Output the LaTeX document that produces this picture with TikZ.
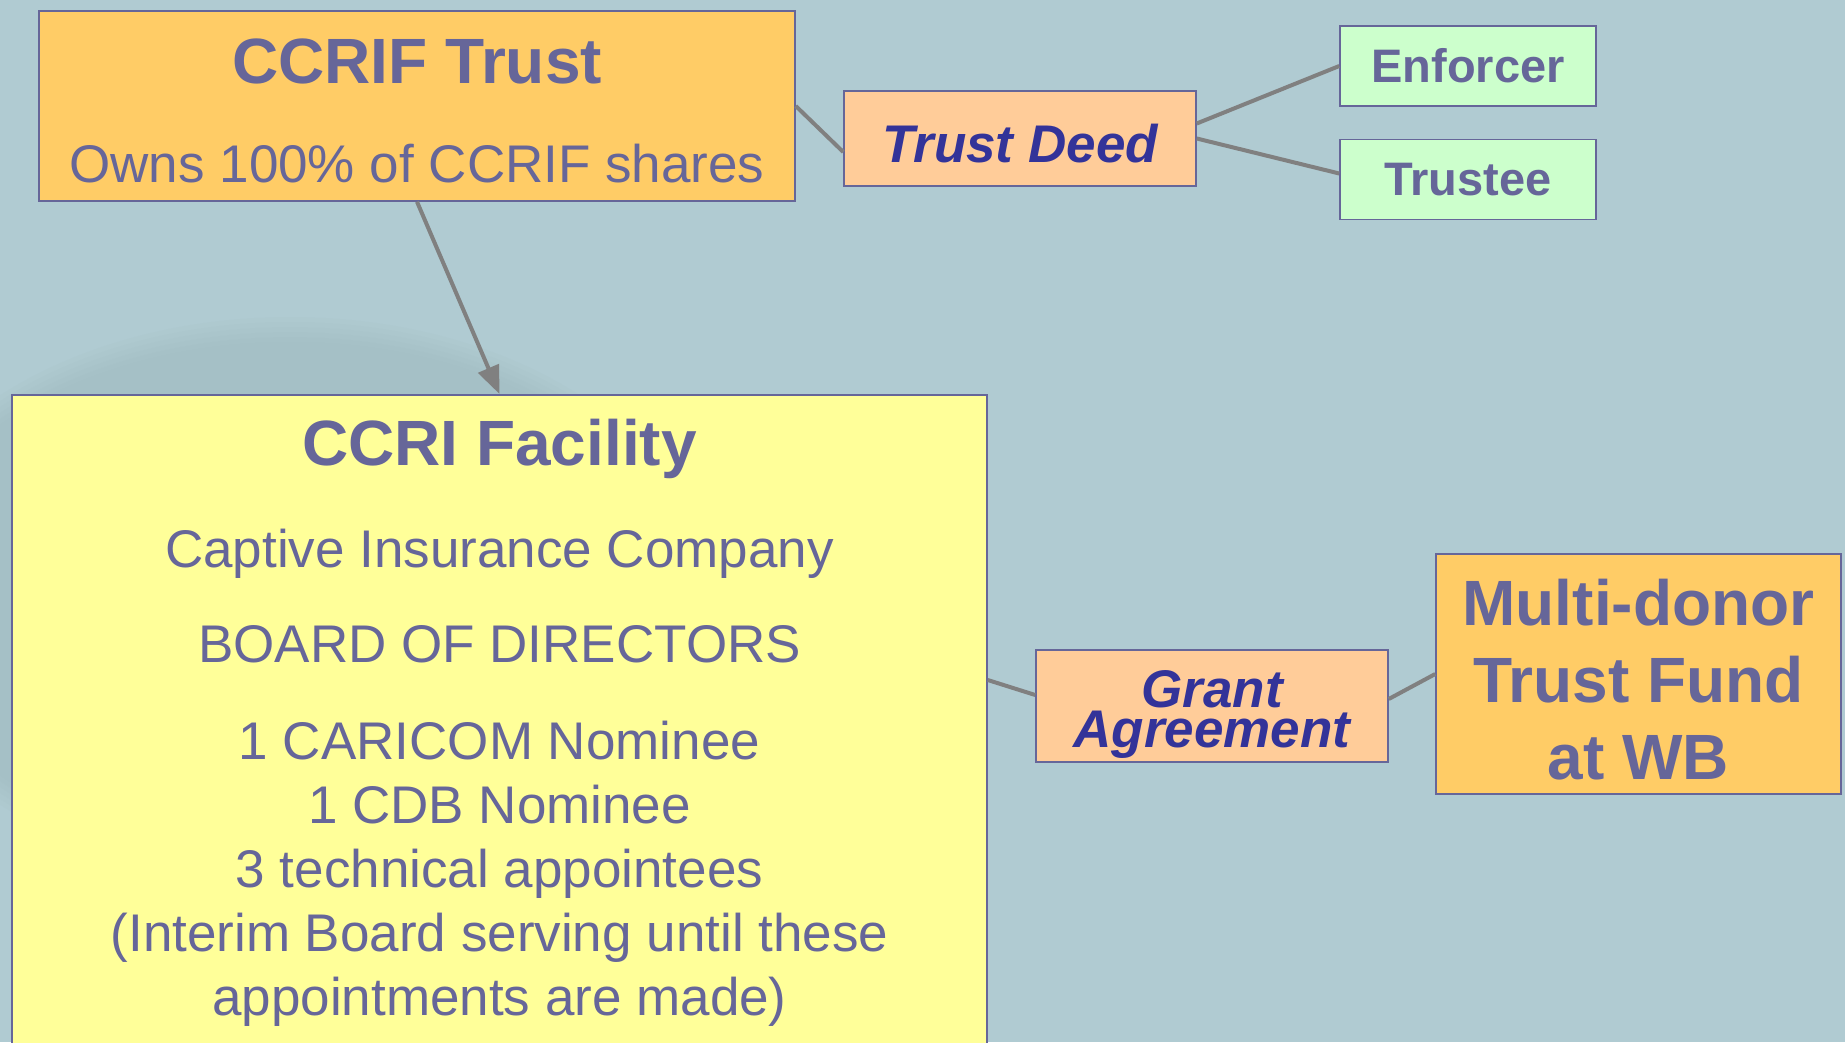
\documentclass[tikz,border=0pt]{standalone}
\usepackage{fontspec}
\setmainfont{Liberation Sans}
\usepackage{xcolor}
\usetikzlibrary{arrows.meta,positioning}

\definecolor{slide}{RGB}{176,203,210}
\definecolor{globe}{RGB}{158,184,190}
\definecolor{rim}{RGB}{102,102,153}
\definecolor{ink}{RGB}{102,102,153}
\definecolor{deepink}{RGB}{51,51,153}
\definecolor{gold}{RGB}{255,204,102}
\definecolor{peach}{RGB}{255,204,153}
\definecolor{mint}{RGB}{204,255,204}
\definecolor{lemon}{RGB}{255,255,153}
\definecolor{wire}{RGB}{128,128,128}

\begin{document}
\begin{tikzpicture}
    [x=1pt, y=-1pt, >={Triangle[length=28pt,width=22pt]},
    box/.style={draw=rim, line width=1.5pt, inner sep=0pt, align=center, text=ink},
    body/.style={font=\fontsize{53}{64}\selectfont},
    head/.style={font=\fontsize{64}{77}\selectfont\bfseries},
    small/.style={font=\fontsize{47}{56}\selectfont\bfseries},
    card/.style={box, fill=peach, text=deepink, minimum width=352pt,
      font=\fontsize{53}{64}\selectfont\bfseries\itshape},
    party/.style={box, fill=mint, small, minimum width=256pt, minimum height=80pt},
    link/.style={draw=wire, line width=4pt}]

  \useasboundingbox (0,0) rectangle (1845,1042);
  \fill[slide] (0,0) rectangle (1845,1042);
  % soft globe behind the facility box
  \foreach \r in {0,...,5}
    \fill[globe, opacity=0.1] (290,600) ellipse ({420-5*\r} and {283-5*\r});

  \node[box, fill=gold, body, minimum width=756pt, minimum height=190pt] (trust) at (417,106)
    {\rule{0pt}{55pt}{\fontsize{64}{77}\selectfont\bfseries CCRIF Trust}\\[35pt]
     Owns 100\% of CCRIF shares};
  \node[card, minimum height=95pt, text height=47pt, text depth=0pt] (deed) at (1020,138.5) {Trust Deed};
  \node[party] (enforcer) at (1468,66) {Enforcer};
  \node[party, below=32pt of enforcer] (trustee) {Trustee};

  \node[box, fill=lemon, body, anchor=north, minimum width=975pt, inner ysep=24pt] (facility) at (499.5,394)
    {{\fontsize{64}{77}\selectfont\bfseries CCRI Facility}\\[38pt]
     Captive Insurance Company\\[31pt]
     BOARD OF DIRECTORS\\[33pt]
     1 CARICOM Nominee\\
     1 CDB Nominee\\
     3 technical appointees\\
     (Interim Board serving until these\\
     appointments are made)};
  \node[card, minimum height=112pt] (grant) at (1212,706) {\rule{0pt}{54pt}Grant\\[-24pt]Agreement};
  \node[box, fill=gold, head, minimum width=405pt, minimum height=240pt] (donor) at (1638.5,674)
    {\rule{0pt}{58pt}Multi-donor\\Trust Fund\\at WB};

  \draw[link] (trust.east) -- ([yshift=-13.5pt]deed.west);
  \draw[link] ([yshift=15pt]deed.east) -- (enforcer.west);
  \draw[link] (deed.east) -- ([yshift=6pt]trustee.west);
  \draw[link,->] (trust.south) -- (facility.north);
  \draw[link] ([yshift=-286pt]facility.north east) -- ([yshift=11pt]grant.west);
  \draw[link] ([yshift=7pt]grant.east) -- (donor.west);

\end{tikzpicture}
\end{document}
